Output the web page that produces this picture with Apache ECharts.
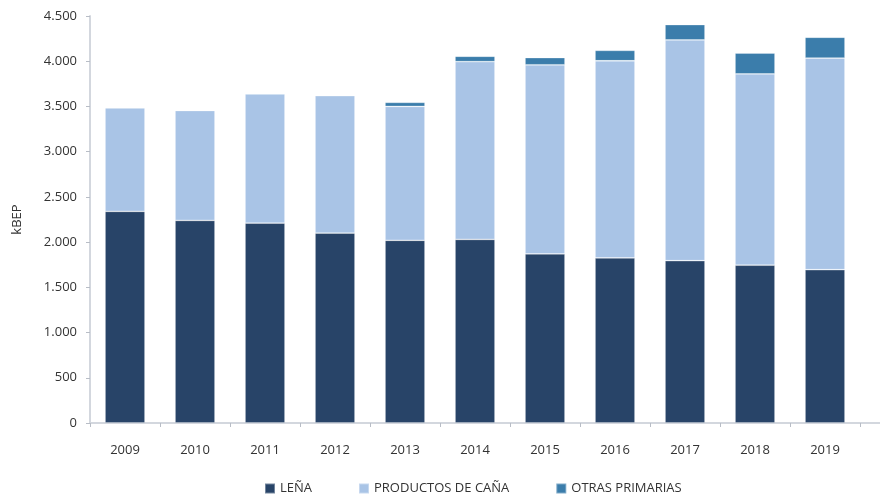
<!DOCTYPE html>
<html>
<head>
<meta charset="utf-8">
<script src="https://cdn.jsdelivr.net/npm/echarts@6/dist/echarts.min.js"></script>
<style>
html,body{margin:0;padding:0;background:#fff;}
#c{width:882px;height:494px;}
</style>
</head>
<body>
<div id="c"></div>
<script>
var years = ['2009','2010','2011','2012','2013','2014','2015','2016','2017','2018','2019'];
var lena = [2340, 2240, 2210, 2100, 2020, 2030, 1870, 1825, 1795, 1745, 1695];
var cana = [1145, 1215, 1430, 1520, 1480, 1965, 2090, 2180, 2440, 2115, 2340];
var otras = [0, 0, 0, 0, 45, 60, 80, 115, 170, 230, 230];
var seriesNames = ['LEÑA', 'PRODUCTOS DE CAÑA', 'OTRAS PRIMARIAS'];
var colors = ['#284468', '#a9c4e6', '#3b7dab'];

var FONT = '"Open Sans", "Noto Sans", sans-serif';
var chart = echarts.init(document.getElementById('c'), null, {renderer: 'canvas'});

function fmt(v) {
  return String(v).replace(/\B(?=(\d{3})+(?!\d))/g, '.');
}

function mk(name, data, color) {
  return {
    name: name,
    type: 'bar',
    stack: 'total',
    data: data,
    barWidth: 40,
    itemStyle: {color: color, borderColor: 'rgba(255,255,255,0.35)', borderWidth: 0.8},
    emphasis: {disabled: true}
  };
}

var gridLeft = 90, gridRight = 22, gridTop = 16, gridBottom = 71;

chart.setOption({
  animation: false,
  color: colors,
  grid: {left: gridLeft, right: gridRight, top: gridTop, bottom: gridBottom, containLabel: false},
  legend: {
    top: 477,
    left: 259,
    itemWidth: 10,
    itemHeight: 10,
    itemGap: 46,
    icon: 'rect',
    textStyle: {fontFamily: FONT, fontSize: 13, color: '#333'},
    data: seriesNames
  },
  graphic: [{
    type: 'line',
    silent: true,
    shape: {x1: 882 - gridRight, y1: 494 - gridBottom, x2: 880, y2: 494 - gridBottom},
    style: {stroke: '#d3d7de', lineWidth: 2}
  }],
  xAxis: {
    type: 'category',
    data: years,
    axisLine: {lineStyle: {color: '#d3d7de', width: 2}},
    axisTick: {show: true, length: 4, lineStyle: {color: '#b8bdc6'}},
    axisLabel: {fontFamily: FONT, fontSize: 13, color: '#333', margin: 21}
  },
  yAxis: {
    type: 'value',
    min: 0,
    max: 4500,
    interval: 500,
    name: 'kBEP',
    nameLocation: 'middle',
    nameGap: 66,
    nameRotate: 90,
    nameTextStyle: {fontFamily: FONT, fontSize: 13, color: '#333'},
    axisLine: {show: true, lineStyle: {color: '#d3d7de', width: 2}},
    axisTick: {show: true, length: 4, lineStyle: {color: '#b8bdc6'}},
    axisLabel: {fontFamily: FONT, fontSize: 13, color: '#333', margin: 13, formatter: fmt},
    splitLine: {show: false}
  },
  series: [
    mk(seriesNames[0], lena, colors[0]),
    mk(seriesNames[1], cana, colors[1]),
    mk(seriesNames[2], otras, colors[2])
  ]
});
</script>
</body>
</html>
